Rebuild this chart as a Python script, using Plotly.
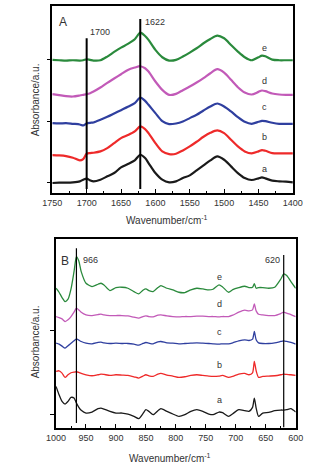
import plotly.graph_objects as go

# ---------------- Panel A data ----------------
wn_a = [1750, 1740, 1730, 1720, 1710, 1705, 1700, 1695, 1690, 1680, 1670, 1660, 1650, 1640,
        1630, 1622, 1615, 1610, 1600, 1590, 1580, 1570, 1560, 1550, 1540, 1530, 1520, 1510,
        1500, 1490, 1480, 1470, 1460, 1450, 1445, 1440, 1430, 1420, 1410, 1400]
A_a = [-2, -1, -1, 0, 3, 8, 11, 6, 3, 8, 18, 28, 45, 55, 66, 83, 73, 58, 28, 8, 0, 3, 13, 21,
       36, 51, 66, 78, 68, 48, 28, 13, 7, 12, 15, 12, 5, 3, 2, 0]
A_b = [82, 81, 79, 74, 66, 70, 86, 88, 89, 93, 103, 118, 133, 142, 153, 168, 160, 148, 118, 93,
       85, 86, 96, 108, 122, 137, 149, 156, 148, 128, 108, 93, 87, 93, 97, 95, 88, 87, 87, 87]
A_c = [178, 177, 178, 176, 174, 171, 177, 179, 180, 188, 197, 207, 217, 227, 238, 255, 245, 233,
       208, 184, 175, 177, 183, 193, 203, 216, 228, 237, 228, 213, 196, 182, 176, 182, 185, 184,
       179, 176, 176, 176]
A_d = [265, 262, 259, 258, 261, 263, 265, 268, 273, 285, 299, 312, 325, 338, 345, 349, 343, 333,
       303, 278, 263, 266, 277, 288, 300, 313, 328, 340, 330, 308, 286, 270, 264, 272, 276, 274,
       267, 264, 263, 263]
A_e = [368, 367, 366, 367, 366, 367, 370, 368, 366, 367, 378, 392, 405, 416, 430, 450, 440, 428,
       398, 376, 366, 368, 378, 390, 403, 418, 431, 441, 433, 413, 393, 376, 367, 376, 381, 379,
       369, 367, 367, 367]

# ---------------- Panel B data ----------------
wn_b = [1000, 995, 990, 985, 980, 975, 970, 966, 962, 958, 950, 940, 930, 925, 920, 910, 900,
        890, 880, 870, 862, 855, 850, 845, 838, 830, 825, 815, 805, 795, 785, 775, 765, 755,
        745, 738, 728, 722, 712, 705, 695, 685, 678, 672, 669, 666, 662, 655, 645, 635, 625,
        620, 615, 608, 600]
B_a = [85, 60, 40, 32, 40, 52, 50, 35, 22, 13, 5, 8, 18, 20, 17, 10, 5, 5, 2, -5, -12, 3, 15, 10,
       0, 12, 18, 10, 2, -5, 0, 10, 15, 10, 2, 0, 8, 6, -5, 3, 15, 12, 10, 22, 50, 20, -5, 5, 7,
       12, 14, 14, 15, 18, 8]
B_b = [130, 132, 125, 112, 120, 126, 128, 129, 127, 124, 120, 117, 120, 122, 121, 118, 120, 119,
       118, 114, 110, 116, 120, 117, 115, 122, 124, 119, 116, 112, 114, 118, 120, 118, 116, 115,
       116, 118, 112, 115, 122, 124, 120, 126, 160, 132, 112, 115, 116, 117, 120, 122, 121, 120, 118]
B_c = [215, 212, 206, 200, 207, 215, 222, 228, 224, 220, 215, 213, 217, 218, 216, 214, 215, 214,
       214, 212, 209, 214, 217, 215, 213, 219, 220, 216, 215, 213, 214, 215, 216, 215, 214, 213,
       212, 213, 213, 216, 222, 225, 223, 227, 250, 225, 216, 214, 214, 216, 220, 222, 220, 217, 212]
B_d = [295, 292, 288, 280, 285, 295, 308, 320, 315, 308, 300, 298, 301, 302, 300, 298, 298, 298,
       297, 293, 290, 295, 297, 295, 294, 299, 300, 297, 295, 294, 295, 295, 296, 296, 295, 295,
       294, 295, 295, 299, 308, 314, 312, 315, 333, 312, 302, 300, 298, 298, 304, 308, 305, 301, 295]
B_e = [380, 368, 352, 340, 347, 378, 430, 475, 462, 430, 395, 385, 392, 395, 390, 373, 382, 383,
       380, 370, 363, 374, 378, 373, 370, 382, 388, 380, 375, 368, 367, 375, 380, 378, 375, 377,
       390, 384, 368, 376, 382, 386, 382, 383, 394, 380, 382, 382, 380, 383, 407, 423, 418, 400, 380]

labels = ["a", "b", "c", "d", "e"]
colors = ["#1a1a1a", "#ee2a2a", "#2f3f9f", "#c25ab8", "#2a8a3c"]

fig = go.Figure()

for lab, ys, col in zip(labels, [A_a, A_b, A_c, A_d, A_e], colors):
    fig.add_trace(go.Scatter(x=wn_a, y=ys, mode="lines", name=lab,
                             line=dict(color=col, width=2.2, shape="spline", smoothing=0.8),
                             xaxis="x", yaxis="y", showlegend=False))
for lab, ys, col in zip(labels, [B_a, B_b, B_c, B_d, B_e], colors):
    fig.add_trace(go.Scatter(x=wn_b, y=ys, mode="lines", name=lab,
                             line=dict(color=col, width=1.3, shape="spline", smoothing=0.6),
                             xaxis="x2", yaxis="y2", showlegend=False))

# vertical reference lines
fig.add_shape(type="line", xref="x", yref="y", x0=1700, x1=1700, y0=-20, y1=433,
              line=dict(color="black", width=2))
fig.add_shape(type="line", xref="x", yref="y", x0=1622, x1=1622, y0=-20, y1=491,
              line=dict(color="black", width=2))
fig.add_shape(type="line", xref="x2", yref="y2", x0=966, x1=966, y0=-25, y1=500,
              line=dict(color="black", width=1.2))
fig.add_shape(type="line", xref="x2", yref="y2", x0=620, x1=620, y0=-38, y1=480,
              line=dict(color="black", width=1.2))

font_fam = "Liberation Sans, Arial, sans-serif"
tc = "#333333"

ann = []
def add_text(txt, x, y, xr, yr, size=9, angle=0):
    ann.append(dict(text=txt, x=x, y=y, xref=xr, yref=yr, showarrow=False,
                    xanchor="center", yanchor="middle", textangle=angle,
                    font=dict(size=size, color=tc, family=font_fam)))

add_text("A", 1735, 483, "x", "y", 12)
add_text("1700", 1680, 453, "x", "y", 9)
add_text("1622", 1600, 483, "x", "y", 9)
for lab, yy in zip(labels, [40, 136, 225, 305, 405]):
    add_text(lab, 1441, yy, "x", "y", 9)

add_text("B", 985, 462, "x2", "y2", 12)
add_text("966", 943, 465, "x2", "y2", 9)
add_text("620", 638, 465, "x2", "y2", 9)
for lab, yy in zip(labels, [45, 148, 248, 332, 415]):
    add_text(lab, 727, yy, "x2", "y2", 9)

# axis titles
add_text("Wavenumber/cm<sup>-1</sup>", 167 / 332, 1 - 220 / 469, "paper", "paper", 10)
add_text("Wavenumber/cm<sup>-1</sup>", 170 / 332, 1 - 458 / 469, "paper", "paper", 10)
add_text("Absorbance/a.u.", 27 / 332, 1 - 100 / 469, "paper", "paper", 10, -90)
add_text("Absorbance/a.u.", 27 / 332, 1 - 342 / 469, "paper", "paper", 10, -90)

xaxis_common = dict(autorange=False, showgrid=False, zeroline=False, showline=True,
                    linecolor="black", linewidth=1.5, mirror=True, ticks="inside",
                    ticklen=4, tickwidth=1, tickcolor="black",
                    tickfont=dict(size=9, color=tc, family=font_fam),
                    minor=dict(ticks="inside", ticklen=2, tickcolor="black", tickwidth=1))
yaxis_common = dict(autorange=False, showgrid=False, zeroline=False, showline=True,
                    linecolor="black", linewidth=1.5, mirror=True, ticks="outside",
                    ticklen=4, tickwidth=1, tickcolor="black", showticklabels=False)

fig.update_layout(
    width=332, height=469,
    margin=dict(l=0, r=0, t=0, b=0),
    paper_bgcolor="white", plot_bgcolor="white",
    xaxis=dict(**xaxis_common, range=[1750, 1400], dtick=50, tick0=1400,
               domain=[45 / 332, 301 / 332], anchor="y", minor_dtick=25),
    yaxis=dict(**yaxis_common, range=[-32, 530], tickvals=[0, 182, 370],
               domain=[1 - 193 / 469, 1 - 6 / 469], anchor="x"),
    xaxis2=dict(**xaxis_common, range=[1000, 600], dtick=50, tick0=600,
                domain=[49 / 332, 304 / 332], anchor="y2", minor_dtick=25),
    yaxis2=dict(**yaxis_common, range=[-40, 528], tickvals=[0, 254],
                domain=[1 - 428 / 469, 1 - 239 / 469], anchor="x2"),
    annotations=ann,
)

fig.write_html("out.html",
               config={"displayModeBar": False},
               post_script="document.body.style.margin='0px';document.body.style.overflow='hidden';")
